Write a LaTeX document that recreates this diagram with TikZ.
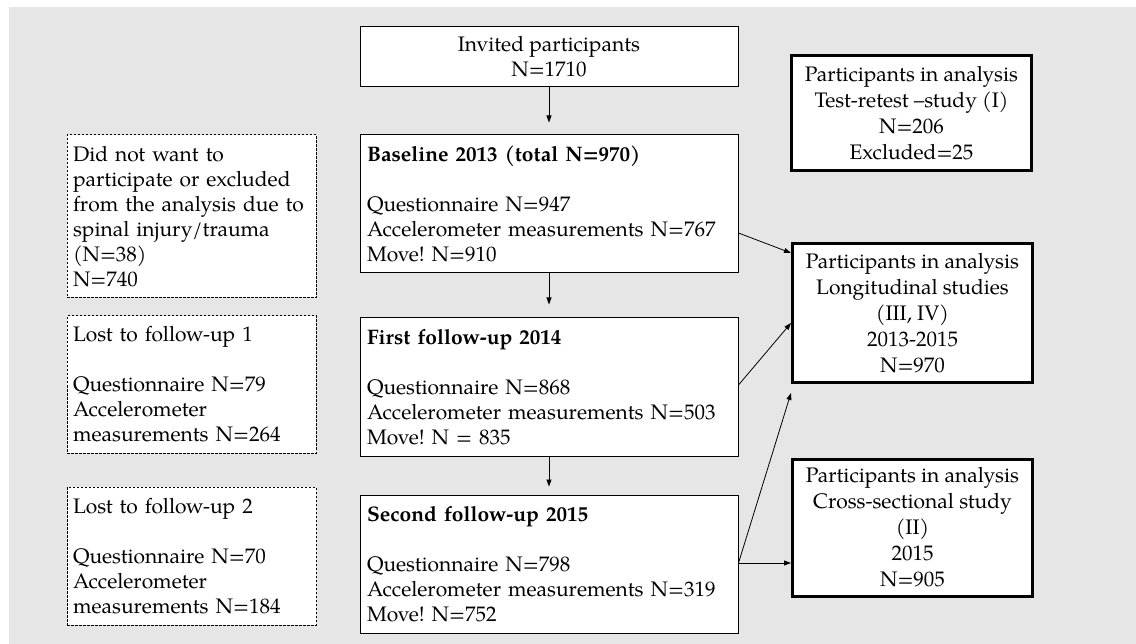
\documentclass[tikz,border=0pt]{standalone}
\usepackage{fontspec}
\setmainfont{TeX Gyre Pagella}
\usetikzlibrary{arrows.meta}
\definecolor{bggray}{HTML}{E6E6E6}
\frenchspacing

\begin{document}
\begin{tikzpicture}
  [x=1pt,y=-1pt,every node/.style={rectangle,draw,fill=white,line width=1pt,inner xsep=7pt,inner ysep=0pt,font=\fontsize{21}{25}\selectfont}]
  \tikzstyle{stage} = [minimum width=378pt,minimum height=138pt,text width=364pt,align=left]
  \tikzstyle{lost} = [dash pattern=on 2.5pt off 1.5pt,minimum width=249pt,inner xsep=6pt,text width=237pt,align=left]
  \tikzstyle{result} = [line width=3pt,minimum width=240pt,align=center,font=\fontsize{21}{26}\selectfont]
  \tikzstyle{arr} = [-{Triangle[length=7pt,width=5pt]},line width=0.8pt]
  \useasboundingbox (0,0) rectangle (1136,644);
  \fill[bggray] (9,7) rectangle (1136,644);

  \node[minimum width=378pt,minimum height=60pt,align=center] (inv) at (549,57) {Invited participants\\N=1710};
  \node[stage] (base) at (549,204) {\textbf{Baseline 2013 (total N=970)}\\[25pt]Questionnaire N=947\\Accelerometer measurements N=767\\Move! N=910};
  \node[stage] (first) at (549,387) {\textbf{First follow-up 2014}\\[25pt]Questionnaire N=868\\Accelerometer measurements N=503\\Move! N = 835};
  \node[stage] (second) at (549,564) {\textbf{Second follow-up 2015}\\[25pt]Questionnaire N=798\\Accelerometer measurements N=319\\Move! N=752};

  \node[lost,minimum height=163pt] (drop) at (191.5,216.5) {Did not want to\\participate or excluded\\from the analysis due to\\spinal injury/trauma\\(N=38)\\N=740};
  \node[lost,minimum height=137pt] (lost1) at (191.5,384.5) {Lost to follow-up 1\\[25pt]Questionnaire N=79\\Accelerometer\\measurements N=264};
  \node[lost,minimum height=138pt] (lost2) at (191.5,556) {Lost to follow-up 2\\[25pt]Questionnaire N=70\\Accelerometer\\measurements N=184};

  \node[result,minimum height=115pt] (retest) at (911.5,113.5) {Participants in analysis\\Test-retest –study (I)\\N=206\\Excluded=25};
  \node[result,minimum height=139pt] (longi) at (912.5,313.5) {Participants in analysis\\Longitudinal studies\\(III, IV)\\2013-2015\\N=970};
  \node[result,minimum height=137pt] (cross) at (912.5,527.5) {Participants in analysis\\Cross-sectional study\\(II)\\2015\\N=905};
  \coordinate (below) at (791,393);

\foreach \source/\dest/\gap in {inv/base/12,base/first/13,first/second/8}
   \draw[arr,shorten >=\gap pt] (\source) -- (\dest);

  \draw[arr] (base.east |- 0,233) -- (longi.west |- 0,253);
  \draw[arr] (first.east |- 0,385) -- (longi.west |- 0,323);
  \draw[arr] (second.east |- 0,563) -- (below);
  \draw[arr] (second.east |- 0,563) -- (cross.west |- 0,563);

  \end{tikzpicture}
\end{document}
